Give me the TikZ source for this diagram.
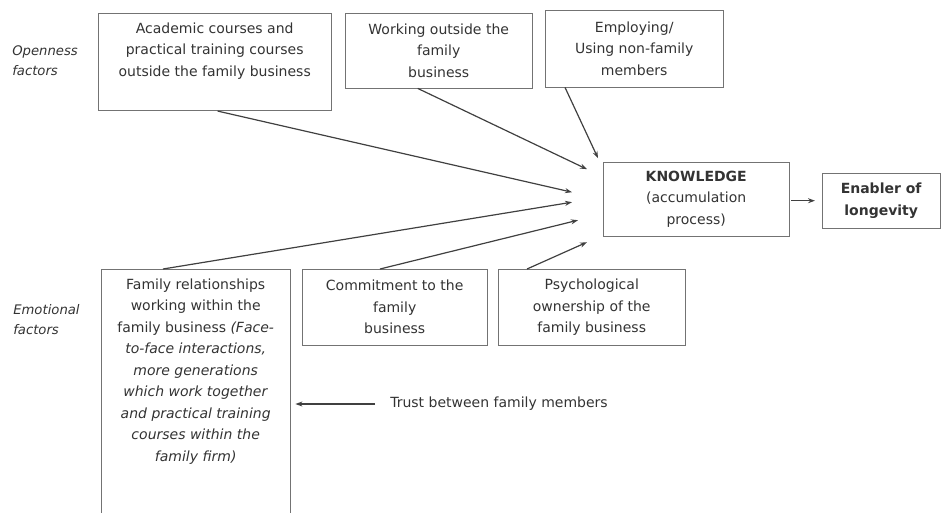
\documentclass[tikz,border=0pt]{standalone}
\usepackage{fontspec}
\setmainfont{DejaVu Sans}
\usetikzlibrary{positioning, arrows.meta}

\begin{document}
\begin{tikzpicture}[
    x = 1pt, y = -1pt,
    > = {Stealth[length=7pt, width=5pt]}, semithick,
    box/.style={draw=black!55, thin, anchor=north west, align=center, inner sep=2pt,
        font=\fontsize{14}{21.5}\selectfont, text=black!80},
    txt/.style={align=center, font=\fontsize{14}{21.5}\selectfont, text=black!80},
    side/.style={align=left, anchor=north west, inner sep=0pt,
        font=\fontsize{13.2}{20}\selectfont\itshape, text=black!80},
    link/.style={->, draw=black!75, line width=1.2pt}
]
    \useasboundingbox (0,0) rectangle (941,513);

    % openness factors
    \node[side] (open) at (12,45) {Openness\\factors};
    \node[box, minimum width=233pt, minimum height=97pt] (acad) at (98,13) {};
    \node[txt, anchor=north] (acadtxt) at ([yshift=-6pt]acad.north)
        {Academic courses and\\practical training courses\\outside the family business};
    \node[box, minimum width=187pt, minimum height=75pt] (work) at (345,13)
        {Working outside the\\family\\business};
    \node[box, minimum width=178pt, minimum height=77pt] (employ) at (545,10)
        {Employing/\\Using non-family\\members};

    % knowledge and longevity
    \node[box, minimum width=186pt, minimum height=74pt] (know) at (603,162)
        {\textbf{KNOWLEDGE}\\(accumulation\\process)};
    \node[box, minimum width=118pt, minimum height=55pt] (longev) at (822,173)
        {\textbf{Enabler of}\\\textbf{longevity}};

    % emotional factors
    \node[side] (emot) at (13,304) {Emotional\\factors};
    \node[box, minimum width=189pt, minimum height=260pt] (family) at (101,269) {};
    \node[txt, anchor=north] (familytxt) at ([yshift=-6pt]family.north)
        {Family relationships\\working within the\\family business \textit{(Face-}\\
         \textit{to-face interactions,}\\\textit{more generations}\\
         \textit{which work together}\\\textit{and practical training}\\
         \textit{courses within the}\\\textit{family firm)}};
    \node[box, minimum width=185pt, minimum height=76pt] (commit) at (302,269)
        {Commitment to the\\family\\business};
    \node[box, minimum width=187pt, minimum height=76pt] (psych) at (498,269)
        {Psychological\\ownership of the\\family business};
    \node[txt, anchor=west, inner sep=0pt] (trust) at (390,404) {Trust between family members};

    % arrow ends in front of knowledge
    \coordinate (toEmploy) at ([xshift=-5pt, yshift=41pt]know.west);
    \coordinate (toWork) at ([xshift=-16pt, yshift=30pt]know.west);
    \coordinate (toAcad) at ([xshift=-31pt, yshift=7pt]know.west);
    \coordinate (toFamily) at ([xshift=-31pt, yshift=-3pt]know.west);
    \coordinate (toCommit) at ([xshift=-25pt, yshift=-21pt]know.west);
    \coordinate (toPsych) at ([xshift=-16pt, yshift=-43pt]know.west);

    \draw[link, shorten <=3pt] (acad.south) -- (toAcad);
    \draw[link] ([xshift=-21pt]work.south) -- (toWork);
    \draw[link] ([xshift=20pt]employ.south west) -- (toEmploy);
    \draw[link] ([xshift=62pt]family.north west) -- (toFamily);
    \draw[link] ([xshift=78pt]commit.north west) -- (toCommit);
    \draw[link] ([xshift=29pt]psych.north west) -- (toPsych);
    \draw[link, shorten <=2pt, shorten >=7pt] (know.east |- longev.west) -- (longev.west);
    \draw[link, shorten <=15pt, shorten >=5pt] (trust.west) -- (trust.west -| family.east);
\end{tikzpicture}
\end{document}
